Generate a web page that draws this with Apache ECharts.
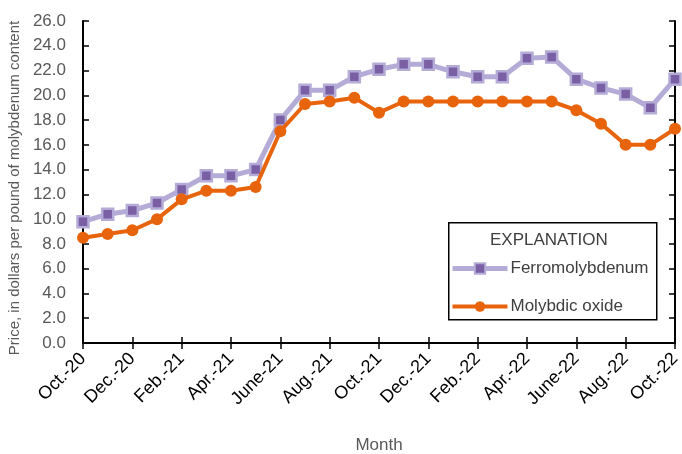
<!DOCTYPE html>
<html><head><meta charset="utf-8">
<script src="https://cdn.jsdelivr.net/npm/echarts@6/dist/echarts.min.js"></script>
<style>html,body{margin:0;padding:0;background:#fff}#c{width:682px;height:454px}</style>
</head><body><div id="c"></div>
<script>
const months = ["Oct.-20","Nov.-20","Dec.-20","Jan.-21","Feb.-21","Mar.-21","Apr.-21","May-21","June-21","July-21","Aug.-21","Sept.-21","Oct.-21","Nov.-21","Dec.-21","Jan.-22","Feb.-22","Mar.-22","Apr.-22","May-22","June-22","July-22","Aug.-22","Sept.-22","Oct.-22"];
const ferromolybdenum = [9.8,10.4,10.7,11.3,12.4,13.5,13.5,14.0,18.0,20.4,20.4,21.5,22.1,22.5,22.5,21.9,21.5,21.5,23.0,23.1,21.3,20.6,20.1,19.0,21.3];
const molybdicOxide = [8.5,8.8,9.1,10.0,11.6,12.3,12.3,12.6,17.1,19.3,19.5,19.8,18.6,19.5,19.5,19.5,19.5,19.5,19.5,19.5,18.8,17.7,16.0,16.0,17.3];
const yTicks = {min:0, max:26, interval:2};

const FONT = '"Liberation Sans",Arial,sans-serif';
const chart = echarts.init(document.getElementById('c'), null, {renderer:'canvas'});
const axisLine = {show:true, lineStyle:{color:'#000', width:2}};
const tick = {show:true, inside:true, length:6, lineStyle:{color:'#000', width:1.5}};
chart.setOption({
  animation:false,
  grid:{left:83, right:7, top:21, bottom:111, containLabel:false, outerBoundsMode:'none'},
  graphic:[
    {type:'rect', left:448, top:222, shape:{width:208, height:97}, style:{fill:'#fff', stroke:'#000', lineWidth:1.5}, z:10},
    {type:'text', left:490, top:232, style:{text:'EXPLANATION', fill:'#404040', font:'17px '+FONT}, z:11}
  ],
  legend:{
    orient:'vertical', left:450, top:260, padding:0, itemWidth:55, itemHeight:13, itemGap:21, z:12,
    textStyle:{fontFamily:FONT, fontSize:17, color:'#404040', padding:[0,0,0,-2]},
    data:[
      {name:'Ferromolybdenum', lineStyle:{width:5, color:'#b4acd6'}},
      {name:'Molybdic oxide', lineStyle:{width:4, color:'#e8640c'}}
    ]
  },
  xAxis:[
    {type:'category', data:months, boundaryGap:false, position:'bottom',
     name:'Month', nameLocation:'middle', nameGap:94,
     nameTextStyle:{fontFamily:FONT, fontSize:17, color:'#595959'},
     axisLine:axisLine, axisTick:Object.assign({interval:1}, tick),
     axisLabel:{interval:1, rotate:45, margin:13, fontFamily:FONT, fontSize:18, color:'#000'},
     splitLine:{show:false}},
    {type:'category', data:months, boundaryGap:false, position:'top',
     axisLine:axisLine, axisTick:Object.assign({interval:1}, tick), axisLabel:{show:false}, splitLine:{show:false}}
  ],
  yAxis:[
    {type:'value', min:yTicks.min, max:yTicks.max, interval:yTicks.interval, position:'left',
     name:'Price, in dollars per pound of molybdenum content', nameLocation:'middle', nameGap:54,
     nameTextStyle:{fontFamily:FONT, fontSize:15, color:'#595959', padding:[0,12,0,0]},
     axisLine:axisLine, axisTick:tick,
     axisLabel:{margin:17, fontFamily:FONT, fontSize:17, color:'#595959', formatter:v=>v.toFixed(1)},
     splitLine:{show:false}},
    {type:'value', min:yTicks.min, max:yTicks.max, interval:yTicks.interval, position:'right',
     axisLine:axisLine, axisTick:tick, axisLabel:{show:false}, splitLine:{show:false}}
  ],
  series:[
    {name:'Ferromolybdenum', type:'line', data:ferromolybdenum, symbol:'rect', symbolSize:11,
     lineStyle:{color:'#b4acd6', width:5}, itemStyle:{color:'#7b5fa4', borderColor:'#b4acd6', borderWidth:2.5}, z:3},
    {name:'Molybdic oxide', type:'line', data:molybdicOxide, symbol:'circle', symbolSize:12,
     lineStyle:{color:'#e8640c', width:4}, itemStyle:{color:'#e8640c'}, z:4}
  ]
});
</script></body></html>
